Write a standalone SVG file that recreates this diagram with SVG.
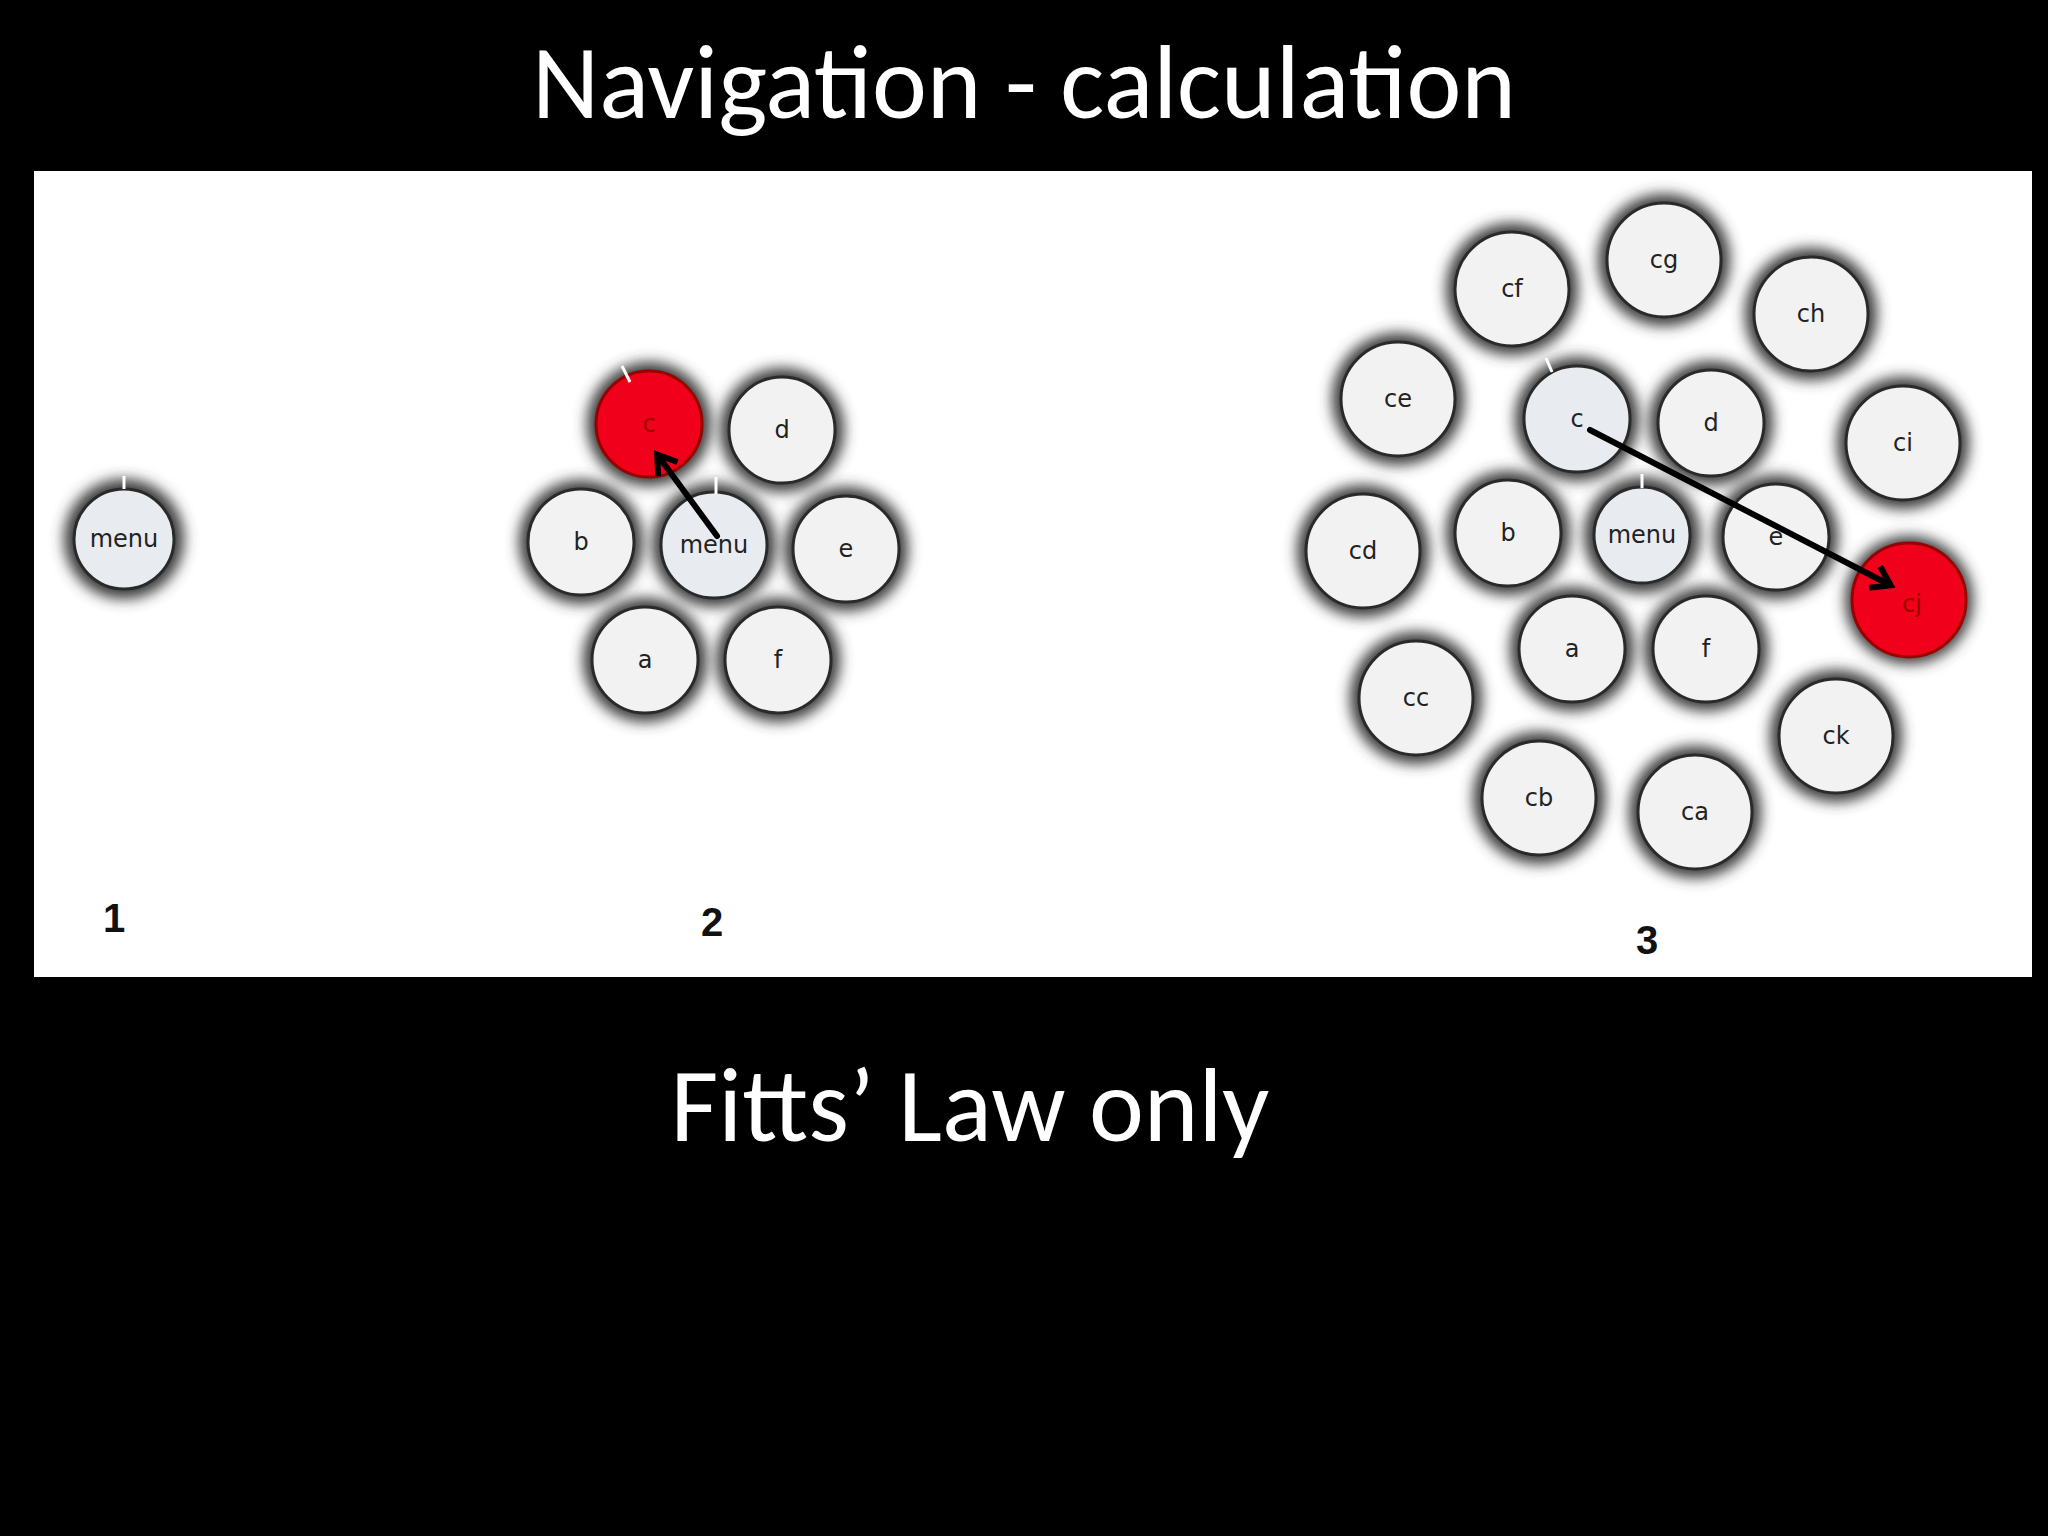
<svg xmlns="http://www.w3.org/2000/svg" width="2048" height="1536" viewBox="0 0 2048 1536">
<defs>
<filter id="bl" x="-50%" y="-50%" width="200%" height="200%"><feGaussianBlur stdDeviation="7"/></filter>
<marker id="ah" viewBox="0 0 10 10" refX="6" refY="5" markerWidth="5" markerHeight="5" orient="auto"><path d="M1,1 L7,5 L1,9" fill="none" stroke="#000" stroke-width="2"/></marker>
</defs>
<style>
.sh{fill:#3a3a3a;filter:url(#bl)}
.n{fill:#f2f2f2;stroke:#2a2a2a;stroke-width:3}
.s{fill:#e8ecf0}
.r{fill:#f0001a;stroke:#900;stroke-width:3}
.t{font-family:"DejaVu Sans",sans-serif;font-size:24px;fill:#222;text-anchor:middle;dominant-baseline:central}
.num{font-family:"Liberation Sans",sans-serif;font-weight:bold;font-size:40px;fill:#111;text-anchor:middle}
.big{font-family:Calibri,"Open Sans","Liberation Sans",sans-serif;font-size:104px;fill:#fff;text-anchor:middle}
.tick{stroke:#fff;stroke-width:3}
</style>
<rect width="2048" height="1536" fill="#000"/>
<text class="big" x="1024" y="118">Navigation - calculation</text>
<rect x="34" y="171" width="1998" height="806" fill="#fff"/>
<text class="big" x="970" y="1141">Fitts’ Law only</text>
<text class="num" x="114" y="932">1</text>
<text class="num" x="712" y="936">2</text>
<text class="num" x="1647" y="954">3</text>
<g id="p1-menu"><circle class="sh" cx="124" cy="539" r="60"/><circle class="n s" cx="124" cy="539" r="50"/><line class="tick" x1="124" y1="476" x2="124" y2="489"/><text class="t" x="124" y="539">menu</text></g>
<g id="p2">
<g id="p2-c"><circle class="sh" cx="649" cy="424" r="62"/><circle class="r" cx="649" cy="424" r="53"/><line class="tick" x1="622" y1="366" x2="630" y2="382"/><text class="t" x="649" y="424" fill="#900" style="fill:#900">c</text></g>
<g id="p2-d"><circle class="sh" cx="782" cy="430" r="62"/><circle class="n" cx="782" cy="430" r="53"/><text class="t" x="782" y="430">d</text></g>
<g id="p2-b"><circle class="sh" cx="581" cy="542" r="62"/><circle class="n" cx="581" cy="542" r="53"/><text class="t" x="581" y="542">b</text></g>
<g id="p2-menu"><circle class="sh" cx="714" cy="545" r="62"/><circle class="n s" cx="714" cy="545" r="53"/><line class="tick" x1="716" y1="477" x2="716" y2="494"/><text class="t" x="714" y="545">menu</text></g>
<g id="p2-e"><circle class="sh" cx="846" cy="549" r="62"/><circle class="n" cx="846" cy="549" r="53"/><text class="t" x="846" y="549">e</text></g>
<g id="p2-a"><circle class="sh" cx="645" cy="660" r="62"/><circle class="n" cx="645" cy="660" r="53"/><text class="t" x="645" y="660">a</text></g>
<g id="p2-f"><circle class="sh" cx="778" cy="660" r="62"/><circle class="n" cx="778" cy="660" r="53"/><text class="t" x="778" y="660">f</text></g>
</g>
<g id="p3">
<g id="p3-cf"><circle class="sh" cx="1512" cy="289" r="66"/><circle class="n" cx="1512" cy="289" r="57"/><text class="t" x="1512" y="289">cf</text></g>
<g id="p3-cg"><circle class="sh" cx="1664" cy="260" r="66"/><circle class="n" cx="1664" cy="260" r="57"/><text class="t" x="1664" y="260">cg</text></g>
<g id="p3-ch"><circle class="sh" cx="1811" cy="314" r="66"/><circle class="n" cx="1811" cy="314" r="57"/><text class="t" x="1811" y="314">ch</text></g>
<g id="p3-ce"><circle class="sh" cx="1398" cy="399" r="66"/><circle class="n" cx="1398" cy="399" r="57"/><text class="t" x="1398" y="399">ce</text></g>
<g id="p3-c"><circle class="sh" cx="1577" cy="419" r="62"/><circle class="n s" cx="1577" cy="419" r="53"/><line class="tick" x1="1546" y1="358" x2="1552" y2="372"/><text class="t" x="1577" y="419">c</text></g>
<g id="p3-d"><circle class="sh" cx="1711" cy="423" r="62"/><circle class="n" cx="1711" cy="423" r="53"/><text class="t" x="1711" y="423">d</text></g>
<g id="p3-ci"><circle class="sh" cx="1903" cy="443" r="66"/><circle class="n" cx="1903" cy="443" r="57"/><text class="t" x="1903" y="443">ci</text></g>
<g id="p3-cd"><circle class="sh" cx="1363" cy="551" r="66"/><circle class="n" cx="1363" cy="551" r="57"/><text class="t" x="1363" y="551">cd</text></g>
<g id="p3-b"><circle class="sh" cx="1508" cy="533" r="62"/><circle class="n" cx="1508" cy="533" r="53"/><text class="t" x="1508" y="533">b</text></g>
<g id="p3-menu"><circle class="sh" cx="1642" cy="535" r="58"/><circle class="n s" cx="1642" cy="535" r="48"/><line class="tick" x1="1642" y1="474" x2="1642" y2="488"/><text class="t" x="1642" y="535">menu</text></g>
<g id="p3-e"><circle class="sh" cx="1776" cy="537" r="62"/><circle class="n" cx="1776" cy="537" r="53"/><text class="t" x="1776" y="537">e</text></g>
<g id="p3-cj"><circle class="sh" cx="1909" cy="600" r="64"/><circle class="r" cx="1909" cy="600" r="57"/><text class="t" x="1912" y="604" style="fill:#900">cj</text></g>
<g id="p3-a"><circle class="sh" cx="1572" cy="649" r="62"/><circle class="n" cx="1572" cy="649" r="53"/><text class="t" x="1572" y="649">a</text></g>
<g id="p3-f"><circle class="sh" cx="1706" cy="649" r="62"/><circle class="n" cx="1706" cy="649" r="53"/><text class="t" x="1706" y="649">f</text></g>
<g id="p3-cc"><circle class="sh" cx="1416" cy="698" r="66"/><circle class="n" cx="1416" cy="698" r="57"/><text class="t" x="1416" y="698">cc</text></g>
<g id="p3-ck"><circle class="sh" cx="1836" cy="736" r="66"/><circle class="n" cx="1836" cy="736" r="57"/><text class="t" x="1836" y="736">ck</text></g>
<g id="p3-cb"><circle class="sh" cx="1539" cy="798" r="66"/><circle class="n" cx="1539" cy="798" r="57"/><text class="t" x="1539" y="798">cb</text></g>
<g id="p3-ca"><circle class="sh" cx="1695" cy="812" r="66"/><circle class="n" cx="1695" cy="812" r="57"/><text class="t" x="1695" y="812">ca</text></g>
</g>
<g id="connectors" stroke="#000" stroke-width="6" fill="none" stroke-linecap="round">
<line x1="717" y1="536" x2="659" y2="457" marker-end="url(#ah)"/>
<line x1="1590" y1="430" x2="1888" y2="584" marker-end="url(#ah)"/>
</g>
</svg>
